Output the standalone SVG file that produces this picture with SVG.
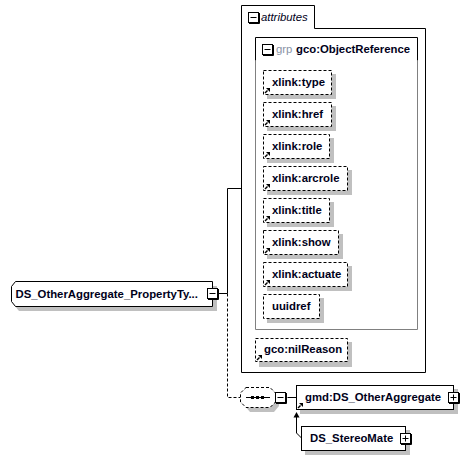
<svg xmlns="http://www.w3.org/2000/svg" width="468" height="460" viewBox="0 0 468 460">
<style>
text{font-family:"Liberation Sans",Arial,sans-serif;font-size:11.35px;font-weight:bold;fill:#00001a}
.b{fill:#fff;stroke:#000;stroke-width:1}
.d{fill:#fff;stroke:#000;stroke-width:1;stroke-dasharray:3 2}
.s{fill:#c0c0c0}
.l{fill:none;stroke:#000;stroke-width:1}
.ld{fill:none;stroke:#000;stroke-width:1;stroke-dasharray:3 2}
.g{fill:#fff;stroke:#808080;stroke-width:1}
</style>
<defs>
<g id="minus"><rect x="0.500" y="0.500" width="10" height="10" fill="#fff" stroke="#000"/><path d="M1 11.500H11.500V1" fill="none" stroke="#000" stroke-width="1"/><path d="M2.500 5.500H8.500" stroke="#000"/></g>
<g id="plus"><rect x="0.500" y="0.500" width="10" height="10" fill="#fff" stroke="#000"/><path d="M1 11.500H11.500V1" fill="none" stroke="#000" stroke-width="1"/><path d="M2.500 5.500H8.500M5.500 2.500V8.500" stroke="#000"/></g>
<g id="ref"><rect x="0" y="0" width="7" height="7" fill="#fff"/><path d="M1 6L3.500 3.500" stroke="#000" stroke-width="1.500" fill="none"/><path d="M2 1H6V5Z" fill="#000"/></g>
</defs>
<g id="connectors">
<path class="l" d="M218.500 293.500H227.500V188.500H241.500"/>
<path class="ld" d="M227.500 293.500V397.500H240.500"/>
<path class="l" d="M287.500 397.500H296.500"/>
<path class="l" d="M296.500 417V433L301.500 438"/>
<path d="M296.500 412L293.500 417.500H299.500Z" fill="#000"/>
</g>
<g id="attributes">
<path d="M241.500 372.500V5.500H314.500V28.500H425.500V372.500Z" class="b"/>
<use href="#minus" x="248" y="12"/>
<text x="261" y="21" style="font-weight:normal;font-style:italic">attributes</text>
</g>
<g id="grp">
<path d="M255.500 60.500V329.500H417.500V60.500" class="g"/>
<path d="M255.500 60.500V37.500H417.500V60.500" fill="#fff" stroke="#000"/>
<use href="#minus" x="262" y="44"/>
<text x="276" y="53" style="font-weight:normal;fill:#8a94a6">grp</text>
<text x="296" y="53">gco:ObjectReference</text>
</g>
<g id="n-type"><rect class="s" x="267" y="74" width="69" height="25"/><rect class="d" x="263.500" y="70.500" width="68" height="24"/><text x="272" y="86">xlink:type</text><use href="#ref" x="264" y="87"/></g>
<g id="n-href"><rect class="s" x="267" y="106" width="69" height="25"/><rect class="d" x="263.500" y="102.500" width="68" height="24"/><text x="272" y="118">xlink:href</text><use href="#ref" x="264" y="119"/></g>
<g id="n-role"><rect class="s" x="267" y="138" width="67" height="25"/><rect class="d" x="263.500" y="134.500" width="66" height="24"/><text x="272" y="150">xlink:role</text><use href="#ref" x="264" y="151"/></g>
<g id="n-arcrole"><rect class="s" x="267" y="170" width="85" height="25"/><rect class="d" x="263.500" y="166.500" width="84" height="24"/><text x="272" y="182">xlink:arcrole</text><use href="#ref" x="264" y="183"/></g>
<g id="n-title"><rect class="s" x="267" y="202" width="67" height="25"/><rect class="d" x="263.500" y="198.500" width="66" height="24"/><text x="272" y="214">xlink:title</text><use href="#ref" x="264" y="215"/></g>
<g id="n-show"><rect class="s" x="267" y="234" width="76" height="25"/><rect class="d" x="263.500" y="230.500" width="75" height="24"/><text x="272" y="246">xlink:show</text><use href="#ref" x="264" y="247"/></g>
<g id="n-actuate"><rect class="s" x="267" y="266" width="85" height="25"/><rect class="d" x="263.500" y="262.500" width="84" height="24"/><text x="272" y="278">xlink:actuate</text><use href="#ref" x="264" y="279"/></g>
<g id="n-uuidref"><rect class="s" x="267" y="298" width="57" height="25"/><rect class="d" x="263.500" y="294.500" width="56" height="24"/><text x="272" y="310">uuidref</text></g>
<g id="n-nilReason"><rect class="s" x="259" y="342" width="93" height="25"/><rect class="d" x="255.500" y="338.500" width="92" height="23"/><text x="264" y="353">gco:nilReason</text><use href="#ref" x="256" y="354"/></g>
<g id="root">
<path class="s" d="M15 290L19 286H217V311H19L15 306Z"/>
<path class="b" d="M11.500 286.500L15.500 281.500H212.500V306.500H15.500L11.500 301.500Z"/>
<text x="15.500" y="298">DS_OtherAggregate_PropertyTy...</text>
<use href="#minus" x="207" y="288"/>
</g>
<g id="sequence">
<path class="s" d="M250 392L245 397V406L250 412H274L279 406V392Z"/>
<path class="d" d="M246 387.500H270L275.500 393V402L270 407.500H246L240.500 402V393Z"/>
<path class="l" d="M246 397.500H270"/>
<rect x="251" y="396" width="3" height="3" fill="#000"/><rect x="256" y="396" width="3" height="3" fill="#000"/><rect x="261" y="396" width="3" height="3" fill="#000"/>
<use href="#minus" x="275" y="392"/>
</g>
<g id="n-aggregate"><rect class="s" x="300" y="389" width="158" height="25"/><rect class="b" x="296.500" y="385.500" width="157" height="24"/><text x="305" y="401">gmd:DS_OtherAggregate</text><use href="#ref" x="297" y="402"/><use href="#plus" x="448" y="392"/></g>
<g id="n-stereo"><rect class="s" x="305" y="430" width="105" height="25"/><rect class="b" x="301.500" y="426.500" width="104" height="24"/><text x="310" y="442">DS_StereoMate</text><use href="#plus" x="400" y="433"/></g>
</svg>
